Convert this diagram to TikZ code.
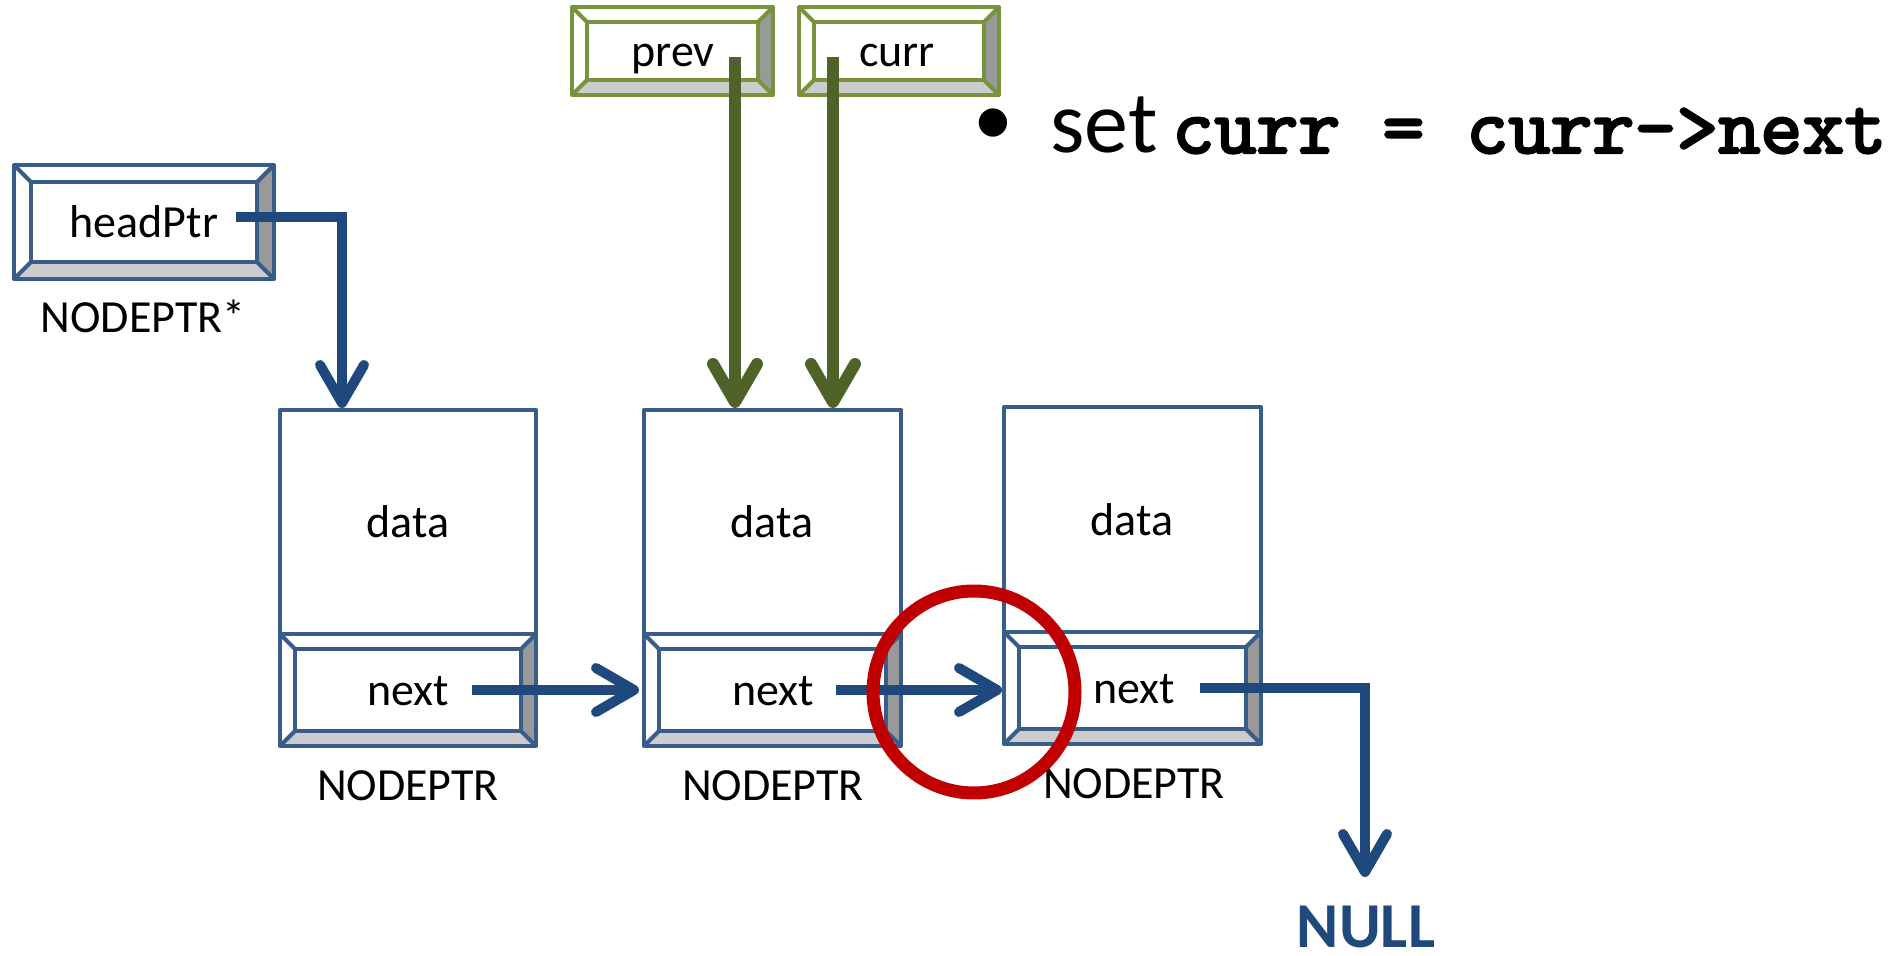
\documentclass[tikz,border=0pt]{standalone}
\usepackage{fontspec}
\setmainfont{Carlito}
\newfontfamily\codefont{lmmono10-regular.otf}[FakeBold=3]
\usetikzlibrary{arrows.meta}
\definecolor{boxblue}{HTML}{385D8A}
\definecolor{arrblue}{HTML}{1F497D}
\definecolor{boxgreen}{HTML}{77933C}
\definecolor{arrgreen}{HTML}{4F6228}
\definecolor{ringred}{HTML}{C00000}
\definecolor{bevdark}{HTML}{999999}
\definecolor{bevlight}{HTML}{CCCCCC}
\tikzset{
  bevline/.style={line width=2pt, line join=round},
  lbl/.style={font=\fontsize{23}{27}\selectfont, inner sep=0pt, anchor=base},
  chev/.style={-{Straight Barb[length=19pt,width=22pt,line cap=round,line join=round]}},
  bluearrow/.style={draw=arrblue, line width=5pt, chev},
  greenarrow/.style={draw=arrgreen, line width=6pt, chev},
  ring/.style={draw=ringred, line width=6.5pt}
}
\newcommand\bevelrect[6]{%
  \fill[white] (#1,#2) rectangle (#3,#4);
  \fill[bevdark] (#3,#2) -- (#3,#4) -- ({#3-#5},{#4-#5}) -- ({#3-#5},{#2+#5}) -- cycle;
  \fill[bevlight] (#1,#4) -- (#3,#4) -- ({#3-#5},{#4-#5}) -- ({#1+#5},{#4-#5}) -- cycle;
  \draw[#6, bevline] (#1,#2) rectangle (#3,#4);
  \draw[#6, bevline] ({#1+#5},{#2+#5}) rectangle ({#3-#5},{#4-#5});
  \draw[#6, bevline] (#1,#2) -- ({#1+#5},{#2+#5}) (#3,#2) -- ({#3-#5},{#2+#5})
     (#1,#4) -- ({#1+#5},{#4-#5}) (#3,#4) -- ({#3-#5},{#4-#5});
}
\begin{document}
\begin{tikzpicture}[x=0.5pt,y=-0.5pt]
\useasboundingbox (0,0) rectangle (1895,956);
% headPtr
\bevelrect{14}{165}{274}{279}{17}{boxblue}
\node[lbl] (hp) at (144,238) {headPtr};
\node[lbl] (hpt) at (143,333) {NODEPTR*};
% prev / curr
\bevelrect{572}{7}{773}{95}{15}{boxgreen}
\node[lbl] (prev) at (673,67) {prev};
\bevelrect{799}{7}{999}{95}{15}{boxgreen}
\node[lbl] (curr) at (897,67) {curr};
% node 1
\draw[boxblue, bevline] (280,410) rectangle (536,634);
\bevelrect{280}{634}{536}{746}{15}{boxblue}
\node[lbl] (data1) at (408,538) {data};
\node[lbl] (next1) at (408,705) {next};
\node[lbl] (np1) at (408,800) {NODEPTR};
% node 2
\draw[boxblue, bevline] (644,410) rectangle (901,634);
\bevelrect{644}{634}{901}{746}{15}{boxblue}
\node[lbl] (data2) at (772,538) {data};
\node[lbl] (next2) at (773,705) {next};
\node[lbl] (np2) at (773,800) {NODEPTR};
% node 3
\draw[boxblue, bevline] (1004,407) rectangle (1261,632);
\bevelrect{1004}{632}{1261}{744}{15}{boxblue}
\node[lbl] (data3) at (1132,536) {data};
\node[lbl] (next3) at (1134,703) {next};
\node[lbl] (np3) at (1134,798) {NODEPTR};
% NULL
\node[font=\fontsize{32}{36}\selectfont\bfseries, text=arrblue, inner sep=0pt, anchor=base] (null) at (1366,947) {NULL};
% connector coordinates
\coordinate (hpS) at (236,217);
\coordinate (n1top) at (342,408);
\coordinate (prevS) at (735,57);
\coordinate (n2topA) at (735,408);
\coordinate (currS) at (833,57);
\coordinate (n2topB) at (833,408);
\coordinate (nx1S) at (472,690);
\coordinate (n2left) at (639,690);
\coordinate (nx2S) at (836,690);
\coordinate (n3left) at (1002,690);
\coordinate (nx3S) at (1200,688);
\coordinate (nullTop) at (1365,877);
% connectors
\draw[bluearrow] (hpS) -| (n1top);
\draw[greenarrow] (prevS) -- (n2topA);
\draw[greenarrow] (currS) -- (n2topB);
\draw[bluearrow] (nx1S) -- (n2left);
\draw[bluearrow] (nx2S) -- (n3left);
\draw[bluearrow] (nx3S) -| (nullTop);
% red ring
\draw[ring] (974,692) circle[radius=101];
% bullet text
\node[inner sep=0pt, font=\fontsize{40}{44}\selectfont] (bul) at (993,127) {•};
\node[inner sep=0pt, anchor=base west, font=\fontsize{44}{48}\selectfont] (set) at (1050,153) {set};
\node[inner sep=0pt, anchor=base west, font=\fontsize{40}{44}\selectfont\codefont] (code) at (1172,153) {curr = curr->next};
\end{tikzpicture}
\end{document}
